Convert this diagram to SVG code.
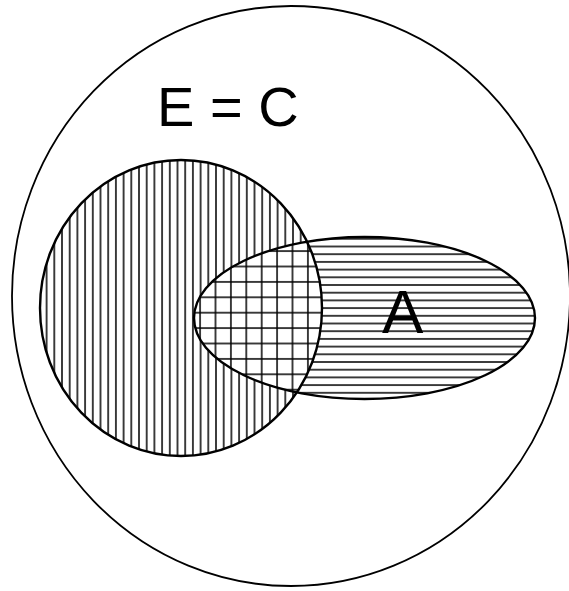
<svg xmlns="http://www.w3.org/2000/svg" width="569" height="591" viewBox="0 0 569 591">
  <style>
    .outline { fill: none; stroke: #000; stroke-width: 2.4; }
    .outer { fill: #fff; stroke: #000; stroke-width: 1.8; }
    .label { font-family: "Liberation Sans", Arial, sans-serif; fill: #000; }
    .hl { stroke: #000; stroke-width: 1.5; }
  </style>
  <defs>
    <pattern id="vhatch" patternUnits="userSpaceOnUse" x="212.15" y="0" width="7.7" height="7.7">
      <line class="hl" x1="3.85" y1="0" x2="3.85" y2="7.7"/>
    </pattern>
    <pattern id="hhatch" patternUnits="userSpaceOnUse" x="0" y="281.15" width="7.7" height="7.7">
      <line class="hl" x1="0" y1="3.85" x2="7.7" y2="3.85"/>
    </pattern>
    <pattern id="grid" patternUnits="userSpaceOnUse" x="207.8" y="289.6" width="15.4" height="15.4">
      <rect width="15.4" height="15.4" fill="#fff"/>
      <line class="hl" x1="7.7" y1="0" x2="7.7" y2="15.4"/>
      <line class="hl" x1="0" y1="7.7" x2="15.4" y2="7.7"/>
    </pattern>
    <clipPath id="clipA">
      <ellipse cx="364.5" cy="318" rx="170.5" ry="81"/>
    </clipPath>
  </defs>
  <g id="universe">
    <ellipse class="outer" cx="291" cy="296" rx="279" ry="290"/>
    <text class="label" x="157" y="126" font-size="56">E = C</text>
  </g>
  <g id="setC">
    <ellipse cx="181" cy="308" rx="141" ry="148" fill="url(#vhatch)"/>
  </g>
  <g id="setA">
    <ellipse cx="364.5" cy="318" rx="170.5" ry="81" fill="url(#hhatch)"/>
    <text class="label" x="382" y="333" font-size="62">A</text>
  </g>
  <g id="overlap">
    <ellipse cx="181" cy="308" rx="141" ry="148" fill="url(#grid)" clip-path="url(#clipA)"/>
  </g>
  <g id="outlines">
    <ellipse class="outline" cx="181" cy="308" rx="141" ry="148"/>
    <ellipse class="outline" cx="364.5" cy="318" rx="170.5" ry="81"/>
  </g>
</svg>
